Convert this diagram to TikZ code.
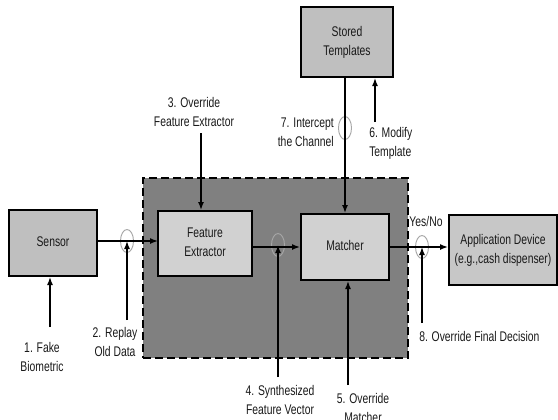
\documentclass[tikz,border=0pt]{standalone}
\usepackage{fontspec}
\setmainfont{Liberation Sans}
\usetikzlibrary{arrows.meta,shapes.geometric}
\newcommand\nt[1]{\scalebox{0.74}[1]{\fontsize{10.5}{14.3}\selectfont\begin{tabular}{@{}c@{}}#1\end{tabular}}}
\newcommand\ntl[1]{\scalebox{0.74}[1]{\fontsize{10.5}{14.3}\selectfont\begin{tabular}{@{}l@{}}#1\end{tabular}}}
\newcommand\ntr[1]{\scalebox{0.74}[1]{\fontsize{10.5}{14.3}\selectfont\begin{tabular}{@{}r@{}}#1\end{tabular}}}
\begin{document}
\begin{tikzpicture}[x=0.75pt,y=-0.75pt,
  blockbox/.style={draw=black,line width=1.5pt,inner sep=0pt,text=black!90},
  secure/.style={draw=black,fill=black!50,line width=2pt,dash pattern=on 6pt off 3pt,minimum width=265*0.75pt,minimum height=180*0.75pt,inner sep=0pt},
  tap/.style={ellipse,draw=black!35,line width=0.7pt,minimum width=13*0.75pt,minimum height=23*0.75pt,inner sep=0pt},
  lab/.style={inner sep=0pt,text=black!90},
  arr/.style={line width=1.1pt,-{Latex[length=6pt,width=4.5pt]}},
  ln/.style={line width=1.1pt}]
\useasboundingbox (0,0) rectangle (558,419);
\node[secure] (sec) at (275.5,268) {};
\node[blockbox,fill=black!25,minimum width=88*0.75pt,minimum height=66*0.75pt] (sensor) at (53,243) {\nt{Sensor}};
\node[blockbox,fill=black!18,minimum width=94*0.75pt,minimum height=65*0.75pt] (fe) at (205,243.5) {\nt{Feature\\Extractor}};
\node[blockbox,fill=black!18,minimum width=88*0.75pt,minimum height=66*0.75pt] (matcher) at (345,247) {\nt{Matcher}};
\node[blockbox,fill=black!22,minimum width=108*0.75pt,minimum height=70*0.75pt] (app) at (503,250) {\nt{Application Device\\(e.g.,cash dispenser)}};
\node[blockbox,fill=black!25,minimum width=92*0.75pt,minimum height=70*0.75pt] (stored) at (347,42) {\nt{Stored\\Templates}};

\node[tap] (c2) at (127,241) {};
\node[tap] (c4) at (278,245) {};
\node[tap] (c7) at (345,128) {};
\node[tap] (c8) at (422,247) {};

\coordinate (m1) at (97,241);
\coordinate (m2) at (158,241);
\draw[arr] (m1) -- (m2);
\draw[arr] (fe.east |- matcher.west) -- (matcher.west);
\draw[arr] (matcher.east) -- (matcher.east -| app.west);
\draw[arr] (matcher.north |- stored.south) -- (matcher.north);

\node[lab] (l1) at (42,358) {\nt{1. Fake\\Biometric}};
\node[lab] (l2) at (115,343) {\nt{2. Replay\\Old Data}};
\node[lab] (l3) at (194,113) {\nt{3. Override\\Feature Extractor}};
\node[lab] (l4) at (280,401) {\nt{4. Synthesized\\Feature Vector}};
\node[lab] (l5) at (363,409) {\nt{5. Override\\Matcher}};
\node[lab,anchor=west] (l6) at (369,143) {\ntl{6. Modify\\Template}};
\node[lab,anchor=east] (l7) at (334,133) {\ntr{7. Intercept\\the Channel}};
\node[lab,anchor=west] (l8) at (419,338) {\ntl{8. Override Final Decision}};
\node[lab] (yn) at (426,223) {\nt{Yes/No}};

\coordinate (a1) at (50,327);
\coordinate (a2) at (127,320);
\coordinate (a3) at (201,133);
\coordinate (a4) at (278,377);
\coordinate (a5) at (348,385);
\coordinate (a6) at (375,122);
\coordinate (a8) at (422,323);
\draw[arr] (a1) -- (a1 |- sensor.south);
\draw[arr] (a2) -- (c2.center);
\draw[arr] (a3) -- (a3 |- fe.north);
\draw[arr] (a4) -- (c4.center);
\draw[arr] (a5) -- (a5 |- matcher.south);
\draw[arr] (a6) -- (a6 |- stored.south);
\draw[arr] (a8) -- (c8.center);
\end{tikzpicture}
\end{document}
